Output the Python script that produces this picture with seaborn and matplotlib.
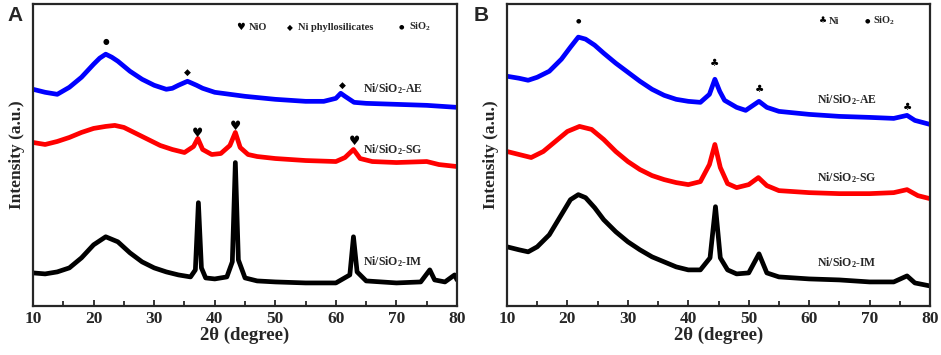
import pandas as pd
import seaborn as sns
import matplotlib.pyplot as plt
from matplotlib.ticker import MultipleLocator

# XRD patterns (2theta in degree, intensity in arbitrary units)
# panel A: calcined samples
a_ae_x = [10, 12, 14, 16, 18, 20, 21, 22, 23, 24, 26, 28, 30, 32, 33, 34, 35.5, 37, 38, 40,
          45, 50, 55, 58, 60, 60.8, 61.5, 63, 65, 70, 75, 80]
a_ae_y = [216, 213, 211, 218, 228, 241, 247, 251, 248, 244, 234, 226, 220, 216, 217, 220, 224, 220, 217, 213,
          209, 206, 204, 204, 207, 212, 209, 203, 202, 201, 200, 198]

a_sg_x = [10, 12, 14, 16, 18, 20, 22, 23.5, 25, 27, 29, 31, 33, 35, 36.5, 37.2, 38, 39.5, 41, 42.5,
          43.4, 44.2, 45.5, 47, 50, 55, 60, 61.5, 62.9, 64, 66, 70, 75, 77, 80]
a_sg_y = [163, 161, 164, 168, 173, 177, 179, 180, 178, 172, 166, 160, 156, 153, 159, 167, 156, 151, 152, 160,
          173, 158, 151, 149, 147, 145, 144, 148, 156, 147, 144, 143, 144, 141, 139]

a_im_x = [10, 12, 14, 16, 18, 20, 22, 24, 26, 28, 30, 32, 34, 36, 36.8, 37.3, 37.8, 38.5, 40, 42,
          42.9, 43.4, 43.9, 45, 47, 50, 55, 60, 62.3, 62.9, 63.5, 65, 70, 74, 75.5, 76.3, 78, 79.6, 80]
a_im_y = [33, 32, 34, 38, 48, 61, 69, 64, 53, 44, 38, 34, 31, 29, 36, 103, 38, 28, 27, 29,
          44, 143, 46, 28, 25, 24, 23, 23, 31, 69, 34, 25, 23, 24, 36, 26, 24, 31, 26]

# panel B: reduced samples
b_ae_x = [10, 12, 13.5, 15, 17, 19, 20.5, 21.8, 23, 24.5, 26, 28, 30, 32, 34, 36, 38, 40, 42, 43.5,
          44.4, 45.2, 46, 48, 49.5, 51.7, 53, 55, 60, 65, 70, 74, 76.2, 77.5, 80]
b_ae_y = [229, 227, 225, 228, 234, 246, 258, 268, 266, 260, 252, 242, 233, 224, 216, 210, 206, 204, 203, 211,
          226, 214, 205, 198, 195, 204, 198, 194, 191, 189, 188, 187, 190, 185, 181]

b_sg_x = [10, 12, 14, 16, 18, 20, 22, 24, 26, 28, 30, 32, 34, 36, 38, 40, 42, 43.5, 44.4, 45.3,
          46.5, 48, 50, 51.6, 53, 55, 60, 65, 70, 74, 76.2, 78, 80]
b_sg_y = [154, 151, 148, 154, 164, 174, 179, 176, 166, 154, 144, 136, 130, 126, 123, 121, 124, 141, 161, 138,
          122, 118, 121, 128, 120, 115, 113, 112, 112, 113, 116, 110, 107]

b_im_x = [10, 12, 13.5, 15, 17, 19, 20.5, 21.8, 23, 24.5, 26, 28, 30, 32, 34, 36, 38, 40, 42, 43.6,
          44.5, 45.3, 46.5, 48, 50, 51.7, 53, 55, 60, 65, 70, 74, 76.2, 77.5, 80]
b_im_y = [59, 56, 54, 59, 71, 91, 106, 111, 108, 98, 86, 74, 64, 56, 49, 44, 39, 36, 36, 48,
          99, 48, 36, 32, 33, 52, 33, 29, 27, 26, 24, 24, 30, 23, 20]

samples = ["Ni/SiO$_2$-AE", "Ni/SiO$_2$-SG", "Ni/SiO$_2$-IM"]
colors = ["#0000ff", "#ff0000", "#000000"]

sns.set_style("ticks")
plt.rcParams['font.family'] = ['Liberation Serif', 'DejaVu Sans']
plt.rcParams['mathtext.fontset'] = 'custom'
plt.rcParams['mathtext.rm'] = 'Liberation Serif:bold'
plt.rcParams['mathtext.it'] = 'Liberation Serif:bold'
plt.rcParams['mathtext.bf'] = 'Liberation Serif:bold'

fig = plt.figure(figsize=(9.41, 3.55), dpi=100)
axA = fig.add_axes([0.0351, 0.138, 0.4506, 0.8507])
axB = fig.add_axes([0.5388, 0.138, 0.4495, 0.8507])


def draw(ax, curves):
    for (x, y), name, c in zip(curves, samples, colors):
        df = pd.DataFrame({"two_theta": x, "intensity": y})
        sns.lineplot(data=df, x="two_theta", y="intensity", ax=ax, color=c, lw=3.4,
                     sort=False, estimator=None)
    ax.set_xlim(10, 80)
    ax.set_ylim(0, 301)
    ax.set_yticks([])
    ax.xaxis.set_major_locator(MultipleLocator(10))
    ax.xaxis.set_minor_locator(MultipleLocator(5))
    ax.tick_params(axis='x', which='both', direction='in', top=False, labelsize=12.5, width=1.3)
    ax.tick_params(axis='x', which='major', length=4.5)
    ax.tick_params(axis='x', which='minor', length=3.5)
    for lbl in ax.get_xticklabels():
        lbl.set_fontweight('bold')
    for s in ax.spines.values():
        s.set_visible(True)
        s.set_linewidth(1.6)
    ax.set_xlabel("2θ (degree)", fontsize=13.5, fontweight='bold', labelpad=0)
    ax.set_ylabel("Intensity (a.u.)", fontsize=12.5, fontweight='bold', labelpad=6)


draw(axA, [(a_ae_x, a_ae_y), (a_sg_x, a_sg_y), (a_im_x, a_im_y)])
draw(axB, [(b_ae_x, b_ae_y), (b_sg_x, b_sg_y), (b_im_x, b_im_y)])

sym = dict(family=['DejaVu Sans'], ha='center', va='center', color='black')
lab = dict(fontsize=8.5, fontweight='bold', ha='left', va='center')

# panel A annotations
axA.text(22, 264, "●", fontsize=5.5, **sym)
axA.text(35.5, 233, "◆", fontsize=6.5, **sym)
axA.text(61.0, 220, "◆", fontsize=6.5, **sym)
for px, py in [(37.2, 172), (43.4, 179), (63.1, 164)]:
    axA.text(px, py, "♥", fontsize=9, **sym)
axA.text(44.2, 278, "♥", fontsize=7, **sym)
axA.text(45.6, 278, "NiO", fontsize=7.5, fontweight='bold', ha='left', va='center')
axA.text(52.4, 278, "◆", fontsize=5.5, **sym)
axA.text(53.7, 278, "Ni phyllosilicates", fontsize=7.5, fontweight='bold', ha='left', va='center')
axA.text(70.8, 278, "●", fontsize=4.5, **sym)
axA.text(72.1, 278, "SiO$_2$", fontsize=7.5, fontweight='bold', ha='left', va='center')
for txt, yy in zip(samples, [217, 156, 44]):
    axA.text(64.5, yy, txt, **lab)

# panel B annotations
axB.text(21.8, 284, "●", fontsize=4.5, **sym)
for px, py in [(44.4, 242), (51.7, 216), (76.2, 198)]:
    axB.text(px, py, "♣", fontsize=7.5, **sym)
axB.text(62.3, 284, "♣", fontsize=6.5, **sym)
axB.text(63.3, 284, "Ni", fontsize=7.5, fontweight='bold', ha='left', va='center')
axB.text(69.7, 284, "●", fontsize=4.5, **sym)
axB.text(70.6, 284, "SiO$_2$", fontsize=7.5, fontweight='bold', ha='left', va='center')
for txt, yy in zip(samples, [206, 128, 43]):
    axB.text(61.3, yy, txt, **lab)

fig.text(0.008, 0.955, "A", fontsize=15, fontweight='bold', family=['Liberation Sans'], va='center')
fig.text(0.503, 0.955, "B", fontsize=15, fontweight='bold', family=['Liberation Sans'], va='center')

fig.savefig("out.png", dpi=100)
